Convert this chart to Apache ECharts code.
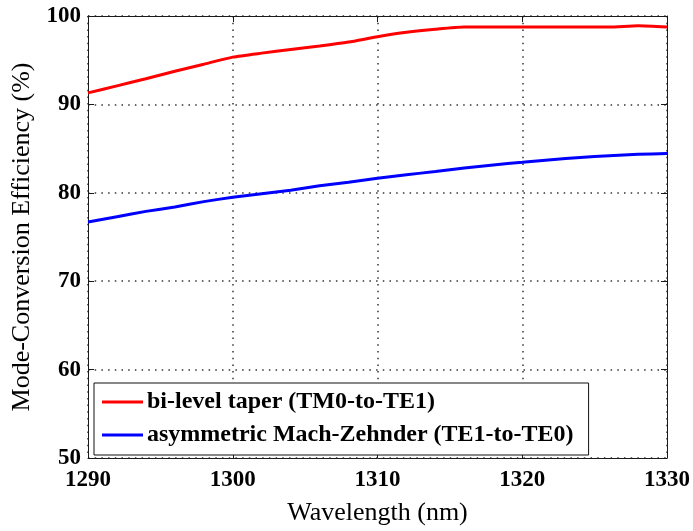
<!DOCTYPE html>
<html>
<head>
<meta charset="utf-8">
<script src="https://cdn.jsdelivr.net/npm/echarts@6/dist/echarts.min.js"></script>
<style>
  html, body { margin: 0; padding: 0; background: #fff; }
  #chart { width: 693px; height: 531px; }
</style>
</head>
<body>
<div id="chart"></div>
<script>
// Wavelength samples (nm)
const wavelengths = [1290, 1292, 1294, 1296, 1298, 1300, 1302, 1304, 1306, 1308, 1310,
                     1312, 1314, 1316, 1318, 1320, 1322, 1324, 1326, 1328, 1330];
// Mode-conversion efficiency (%) of the bi-level taper, TM0 -> TE1
const taperEff = [91.3, 92.1, 92.9, 93.75, 94.55, 95.35, 95.8, 96.2, 96.6, 97.05, 97.65,
                  98.15, 98.5, 98.75, 98.75, 98.75, 98.75, 98.75, 98.75, 98.9, 98.75];
// Mode-conversion efficiency (%) of the asymmetric Mach-Zehnder, TE1 -> TE0
const amzEff = [76.7, 77.3, 77.9, 78.4, 79.0, 79.5, 79.9, 80.3, 80.8, 81.2, 81.65,
                82.05, 82.4, 82.8, 83.15, 83.45, 83.75, 84.0, 84.2, 84.35, 84.45];
const seriesNames = ['bi-level taper (TM0-to-TE1)', 'asymmetric Mach-Zehnder (TE1-to-TE0)'];
const xTicks = [1290, 1300, 1310, 1320, 1330];
const yTicks = [50, 60, 70, 80, 90, 100];

const serif = '"Liberation Serif", "DejaVu Serif", serif';
const frame = '#1a1a1a';
const pairs = (ys) => wavelengths.map((x, i) => [x, ys[i]]);
const plain = (v) => String(v);

const dotted = { color: '#333', width: 1.5, type: [1.5, 5.2] };
const tick = { show: true, inside: true, length: 6, lineStyle: { color: frame, width: 1 } };

const chart = echarts.init(document.getElementById('chart'), null, { renderer: 'canvas' });
chart.setOption({
  animation: false,
  backgroundColor: '#fff',
  grid: { left: 88, right: 25, top: 16, bottom: 71, containLabel: false },
  xAxis: [
    {
      type: 'value', position: 'bottom',
      min: xTicks[0], max: xTicks[xTicks.length - 1], interval: 10,
      name: 'Wavelength (nm)', nameLocation: 'middle', nameGap: 42,
      nameTextStyle: { fontFamily: serif, fontSize: 26, color: '#000' },
      axisLine: { show: true, lineStyle: { color: frame, width: 1 } },
      axisTick: tick,
      axisLabel: { fontFamily: serif, fontSize: 23, fontWeight: 'bold', color: '#000', margin: 11, formatter: plain },
      splitLine: { show: true, lineStyle: dotted }
    },
    {
      type: 'value', position: 'top',
      min: xTicks[0], max: xTicks[xTicks.length - 1], interval: 10,
      axisLine: { show: true, lineStyle: { color: frame, width: 1 } },
      axisTick: tick, axisLabel: { show: false }, splitLine: { show: false }
    }
  ],
  yAxis: [
    {
      type: 'value', position: 'left',
      min: yTicks[0], max: yTicks[yTicks.length - 1], interval: 10,
      name: 'Mode-Conversion Efficiency (%)', nameLocation: 'middle', nameGap: 47,
      nameTextStyle: { fontFamily: serif, fontSize: 26, color: '#000' },
      axisLine: { show: true, lineStyle: { color: frame, width: 1 } },
      axisTick: tick,
      axisLabel: { fontFamily: serif, fontSize: 23, fontWeight: 'bold', color: '#000', margin: 7, formatter: plain },
      splitLine: { show: true, lineStyle: dotted }
    },
    {
      type: 'value', position: 'right',
      min: yTicks[0], max: yTicks[yTicks.length - 1], interval: 10,
      axisLine: { show: true, lineStyle: { color: frame, width: 1 } },
      axisTick: tick, axisLabel: { show: false }, splitLine: { show: false }
    }
  ],
  legend: {
    orient: 'vertical',
    left: 94, top: 383,
    padding: [7, 15, 8, 8],
    itemGap: 9,
    itemWidth: 41, itemHeight: 3,
    icon: 'rect',
    borderColor: '#111', borderWidth: 1,
    backgroundColor: '#fff',
    textStyle: { fontFamily: serif, fontSize: 24, fontWeight: 'bold', color: '#000', padding: [0, 0, 0, -1] },
    data: seriesNames
  },
  series: [
    {
      name: seriesNames[0], type: 'line', xAxisIndex: 0, yAxisIndex: 0,
      data: pairs(taperEff), symbol: 'none', smooth: 0.2,
      lineStyle: { color: '#ff0000', width: 3 }, itemStyle: { color: '#ff0000' }
    },
    {
      name: seriesNames[1], type: 'line', xAxisIndex: 0, yAxisIndex: 0,
      data: pairs(amzEff), symbol: 'none', smooth: 0.2,
      lineStyle: { color: '#0000ff', width: 3 }, itemStyle: { color: '#0000ff' }
    }
  ]
});
</script>
</body>
</html>
